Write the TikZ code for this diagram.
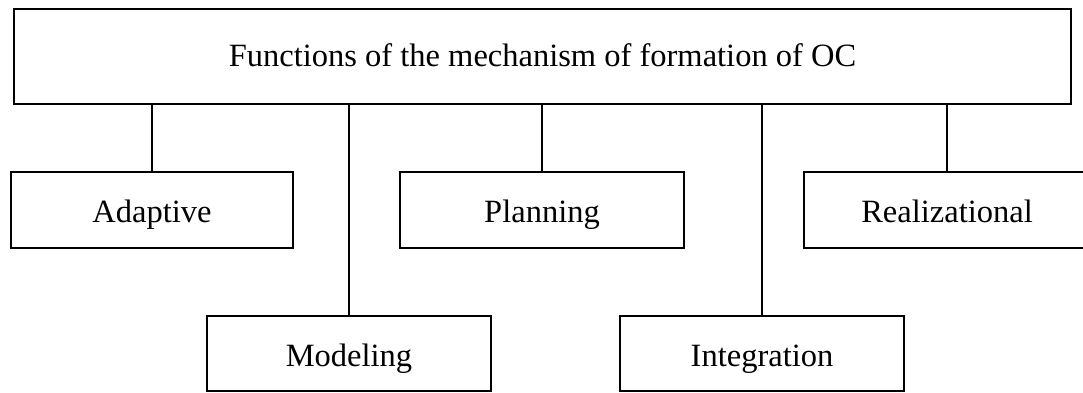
\documentclass[tikz,border=0pt]{standalone}
\usepackage{fontspec}
\setmainfont{Liberation Serif}
\begin{document}
\begin{tikzpicture}[x=1pt,y=-1pt,
  box/.style={draw=black, line width=1.2pt, fill=white, inner sep=0pt,
              text depth=0pt, text height=25pt,
              font=\fontsize{32.5}{38}\selectfont},
  link/.style={draw=black, line width=1.2pt}]
  \useasboundingbox (0,0) rectangle (1083,392);
  \clip (0,0) rectangle (1083,392);
  % root node
  \node[box, text height=20pt, minimum width=1057pt, minimum height=95pt] (root) at (542.5,56.5)
    {Functions of the mechanism of formation of OC};
  % first row
  \node[box, minimum width=282pt, minimum height=76pt] (adapt) at (152,210) {Adaptive};
  \node[box, minimum width=284pt, minimum height=76pt] (plan) at (542,210) {Planning};
  \node[box, minimum width=286pt, minimum height=76pt] (real) at (947,210) {Realizational};
  % second row
  \node[box, minimum width=284pt, minimum height=75pt] (model) at (349,353.5) {Modeling};
  \node[box, minimum width=284pt, minimum height=75pt] (integ) at (762,353.5) {Integration};
  % connectors
  \foreach \c in {adapt,plan,real,model,integ}
    \draw[link] (root.south -| \c.north) -- (\c.north);
\end{tikzpicture}
\end{document}
